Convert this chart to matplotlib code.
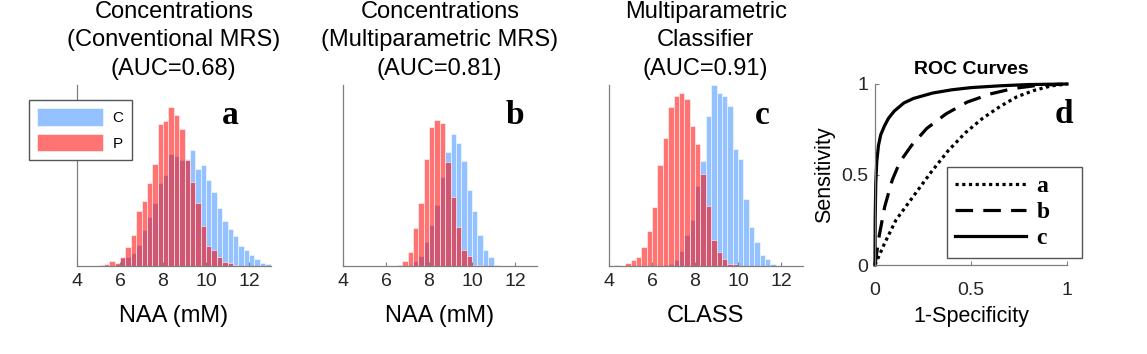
"""NAA / classifier histograms for controls vs patients, plus ROC curves."""

import matplotlib

matplotlib.use("Agg")
import matplotlib.pyplot as plt  # noqa: E402
import numpy as np  # noqa: E402

plt.rcParams["font.family"] = ["Liberation Sans", "DejaVu Sans"]

BIN_WIDTH = 0.25

# (a) conventional MRS -- bar heights (arbitrary count units)
a_ctrl_start = 5.75
a_ctrl = [2, 8, 9, 13, 21, 36, 49, 63, 83, 91, 112, 110, 106, 107, 116, 97, 101,
          86, 74, 58, 45, 37, 30, 20, 16, 11, 7, 3, 2]
a_pat_start = 5.0
a_pat = [1, 2, 5, 3.5, 9, 19, 31, 55, 65, 83, 102, 142, 145, 159, 151, 137, 106,
         84, 63, 40, 20, 16, 9, 4, 3, 1]

# (b) multiparametric MRS
b_ctrl_start = 7.0
b_ctrl = [1, 4.7, 10, 24, 41, 61, 89, 114, 132, 123, 105, 76, 55, 31, 16, 9, 1.3]
b_pat_start = 6.5
b_pat = [1.3, 5, 14, 38, 63, 107, 139, 146, 143, 104, 69, 39, 16, 10, 1.3, 0.7]

# (c) multiparametric classifier
c_ctrl_start = 6.5
c_ctrl = [1, 2, 6, 15, 31, 46, 80, 105, 150, 181, 173, 170, 160, 117, 107, 67,
          39, 24, 11, 7, 2]
c_pat_start = 4.25
c_pat = [0.7, 0.5, 3, 6, 9, 19, 35, 59, 101, 128, 159, 170, 173, 167, 140, 122,
         92, 60, 26, 14, 7, 2, 2]

# (d) ROC curves
roc_a_fpr = [0, 0.05, 0.11, 0.2, 0.29, 0.38, 0.47, 0.56, 0.65, 0.74, 0.83, 0.92, 1.0]
roc_a_tpr = [0, 0.12, 0.25, 0.38, 0.51, 0.63, 0.73, 0.81, 0.875, 0.93, 0.965, 0.99, 1.0]
roc_b_fpr = [0, 0.02, 0.05, 0.09, 0.13, 0.19, 0.27, 0.37, 0.48, 0.6, 0.72, 0.85, 1.0]
roc_b_tpr = [0, 0.15, 0.32, 0.47, 0.57, 0.66, 0.755, 0.835, 0.9, 0.945, 0.975, 0.993, 1.0]
roc_c_fpr = [0, 0.001, 0.004, 0.009, 0.018, 0.03, 0.05, 0.07, 0.1, 0.15, 0.2, 0.3,
             0.4, 0.5, 0.65, 0.8, 1.0]
roc_c_tpr = [0, 0.25, 0.45, 0.57, 0.66, 0.72, 0.77, 0.81, 0.85, 0.895, 0.92, 0.95,
             0.968, 0.98, 0.99, 0.997, 1.0]

titles = [
    "Concentrations\n(Conventional MRS)\n(AUC=0.68)",
    "Concentrations\n(Multiparametric MRS)\n(AUC=0.81)",
    "Multiparametric\nClassifier\n(AUC=0.91)",
]
xlabels = ["NAA (mM)", "NAA (mM)", "CLASS"]
letters = ["a", "b", "c"]
letter_x = [11.14, 11.99, 11.12]

CTRL_COLOR = (0.3, 0.6, 1.0, 0.6)
PAT_COLOR = (1.0, 0.0, 0.0, 0.55)
EDGE = (1, 1, 1, 0.55)
AXIS_GRAY = "#7f7f7f"
TICK_TEXT = "#262626"
SERIF_BOLD = {"family": "Liberation Serif", "weight": "bold"}

W, H = 1147, 354


def px_rect(left, top, right, bottom):
    return [left / W, 1 - bottom / H, (right - left) / W, (bottom - top) / H]


def bars(ax, start, heights, color, label):
    lefts = start + BIN_WIDTH * np.arange(len(heights))
    ax.bar(lefts, heights, width=BIN_WIDTH, align="edge", color=color,
           edgecolor=EDGE, linewidth=0.7, label=label)


def style_axes(ax):
    for side in ("top", "right"):
        ax.spines[side].set_visible(False)
    for side in ("left", "bottom"):
        ax.spines[side].set_color(AXIS_GRAY)
        ax.spines[side].set_linewidth(0.9)
    ax.tick_params(direction="in", length=3, color=AXIS_GRAY, labelcolor=TICK_TEXT,
                   labelsize=14, pad=5)


fig = plt.figure(figsize=(W / 100, H / 100), dpi=100)

hist_data = [
    (a_ctrl_start, a_ctrl, a_pat_start, a_pat),
    (b_ctrl_start, b_ctrl, b_pat_start, b_pat),
    (c_ctrl_start, c_ctrl, c_pat_start, c_pat),
]
lefts_px = [77, 343, 609]
hist_axes = []
for i, (cs, ch, ps, ph) in enumerate(hist_data):
    ax = fig.add_axes(px_rect(lefts_px[i], 85, lefts_px[i] + 193.5, 266))
    bars(ax, cs, ch, CTRL_COLOR, "C")
    bars(ax, ps, ph, PAT_COLOR, "P")
    ax.set_xlim(4, 13)
    ax.set_ylim(0, 181)
    ax.set_xticks([4, 6, 8, 10, 12])
    ax.set_yticks([])
    style_axes(ax)
    ax.set_title(titles[i], fontsize=17, linespacing=1.36, pad=7.5)
    ax.set_xlabel(xlabels[i], fontsize=17, labelpad=10.5)
    ax.text(letter_x[i], 142, letters[i], fontdict=SERIF_BOLD, fontsize=24,
            ha="center", va="baseline")
    hist_axes.append(ax)

leg = hist_axes[0].legend(
    loc="upper left", bbox_to_anchor=(29 / W, 1 - 100 / H), bbox_transform=fig.transFigure,
    fontsize=11, handlelength=4.3, handleheight=1.35, handletextpad=0.6,
    labelspacing=0.55, borderpad=0.55, borderaxespad=0, fancybox=False, framealpha=1,
)
leg.get_frame().set_edgecolor("#555555")
leg.get_frame().set_linewidth(1.0)

ax_d = fig.add_axes(px_rect(875, 84, 1067, 265))
ax_d.plot(roc_a_fpr, roc_a_tpr, color="k", lw=2.3, ls=(0, (1, 1.1)), label="a    ",
          clip_on=False)
ax_d.plot(roc_b_fpr, roc_b_tpr, color="k", lw=2.3, ls=(0, (5.5, 3.2)), label="b    ",
          clip_on=False)
ax_d.plot(roc_c_fpr, roc_c_tpr, color="k", lw=2.3, label="c    ", clip_on=False)
ax_d.set_xlim(0, 1)
ax_d.set_ylim(0, 1)
ax_d.set_xticks([0, 0.5, 1])
ax_d.set_xticklabels(["0", "0.5", "1"])
ax_d.set_yticks([0, 0.5, 1])
ax_d.set_yticklabels(["0", "0.5", "1"])
style_axes(ax_d)
ax_d.tick_params(axis="x", pad=12)
ax_d.set_title("ROC Curves", fontsize=14, fontweight="bold", pad=7)
ax_d.set_xlabel("1-Specificity", fontsize=15.5, labelpad=5)
ax_d.set_ylabel("Sensitivity", fontsize=15.5, labelpad=4)
ax_d.text(0.983, 0.785, "d", fontdict=SERIF_BOLD, fontsize=24, ha="center",
          va="baseline")
leg_d = ax_d.legend(
    loc="upper left", bbox_to_anchor=(947 / W, 1 - 167 / H), bbox_transform=fig.transFigure,
    prop={"family": "Liberation Serif", "weight": "bold", "size": 17},
    handlelength=3.0, handletextpad=0.45, labelspacing=0.2, borderpad=0.35,
    borderaxespad=0, fancybox=False, framealpha=1,
)
leg_d.get_frame().set_edgecolor("#555555")
leg_d.get_frame().set_linewidth(1.0)

fig.savefig("out.png", dpi=100)
